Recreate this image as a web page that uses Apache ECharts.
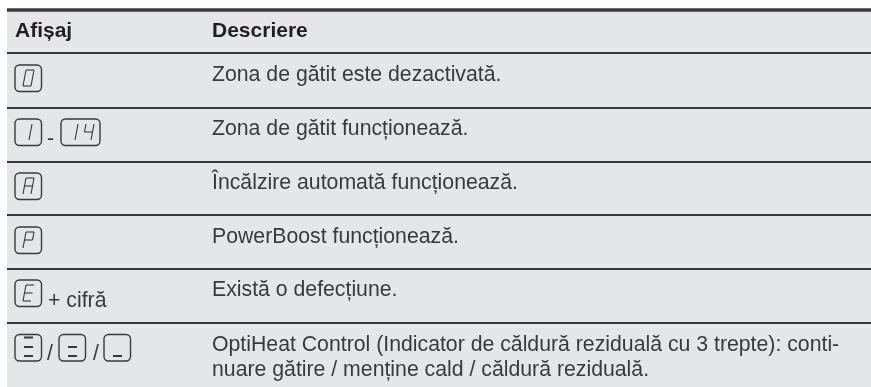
<!DOCTYPE html>
<html>
<head>
<meta charset="utf-8">
<style>
  html, body { margin: 0; padding: 0; background: #fff; }
  #main { width: 871px; height: 387px; }
</style>
<script src="https://cdn.jsdelivr.net/npm/echarts@6/dist/echarts.min.js"></script>
</head>
<body>
<div id="main"></div>
<script>
/* table content */
const headers = ['Afișaj', 'Descriere'];
const displayCodes = [['0'], ['1', '14'], ['A'], ['P'], ['E'], ['bars3', 'bars2', 'bars1']];
const displayNotes = ['', '-', '', '', '+ cifră', '/'];
const descriptions = [
  ['Zona de gătit este dezactivată.'],
  ['Zona de gătit funcționează.'],
  ['Încălzire automată funcționează.'],
  ['PowerBoost funcționează.'],
  ['Există o defecțiune.'],
  ['OptiHeat Control (Indicator de căldură reziduală cu 3 trepte): conti-',
   'nuare gătire / menține cald / căldură reziduală.']
];

/* layout, in pixels of the axes below */
const W = 871, H = 387;
const tableLeft = 7, descLeft = 212, codeLeft = 15;
const ruleY = [10, 53, 108, 162, 215, 269, 323];
const boxTop = [65, 119, 173, 227, 280, 334.5];
const boxH = 26.5, boxW = 26.5, wideBoxW = 39;
const boxX = [[15], [15, 61], [15], [15], [15], [15, 59, 104]];
const noteX = [[], [47], [], [], [48], [47, 93]];
const noteDy = [0, 20, 0, 0, 21, 19.5];
const ink = '#3a3a3c', band = '#e5e6e8', font = '"Liberation Sans", Arial, sans-serif';
const textSize = 21.25, headSize = 21;

const segments = {
  a: [[0, 0], [1, 0]], b: [[1, 0], [1, 0.5]], c: [[1, 0.5], [1, 1]],
  d: [[0, 1], [1, 1]], e: [[0, 0.5], [0, 1]], f: [[0, 0], [0, 0.5]], g: [[0, 0.5], [1, 0.5]]
};
const digitSegs = { '0': 'abcdef', '1': 'bc', '4': 'bcfg', 'A': 'abcefg', 'P': 'abefg', 'E': 'adefg' };
const barRows = { bars3: [3, 12.5, 21.5], bars2: [12.5, 21.5], bars1: [21.5] };

function glyph(api, ch, x, y) {
  let out = [];
  const gw = 8, gh = 16, skew = 3;
  digitSegs[ch].split('').forEach(function (s) {
    let p = segments[s].map(function (q) {
      return api.coord([x + q[0] * gw + (1 - q[1]) * skew, y + q[1] * gh]);
    });
    out.push({
      type: 'line',
      shape: { x1: p[0][0], y1: p[0][1], x2: p[1][0], y2: p[1][1] },
      style: { stroke: ink, lineWidth: 1.1 }
    });
  });
  return out;
}

function drawDisplay(params, api) {
  const row = params.dataIndex;
  let children = [];
  displayCodes[row].forEach(function (code, i) {
    const left = boxX[row][i], top = boxTop[row];
    const wide = code === '14';
    const a = api.coord([left, top]);
    children.push({
      type: 'rect',
      shape: { x: a[0], y: a[1], width: wide ? wideBoxW : boxW, height: boxH, r: 4.5 },
      style: { fill: 'none', stroke: ink, lineWidth: 1.4 }
    });
    if (barRows[code]) {
      barRows[code].forEach(function (dy) {
        const b1 = api.coord([left + 9, top + dy]), b2 = api.coord([left + 18, top + dy]);
        children.push({
          type: 'line',
          shape: { x1: b1[0], y1: b1[1], x2: b2[0], y2: b2[1] },
          style: { stroke: ink, lineWidth: 2 }
        });
      });
    } else if (wide) {
      children = children.concat(glyph(api, '1', left + 6, top + 5), glyph(api, '4', left + 22, top + 5));
    } else {
      children = children.concat(glyph(api, code, left + (code === '1' ? 6 : 8), top + 5));
    }
  });
  noteX[row].forEach(function (nx) {
    const p = api.coord([nx, boxTop[row] + noteDy[row]]);
    children.push({
      type: 'text',
      style: { x: p[0], y: p[1], text: displayNotes[row], fill: ink, font: textSize + 'px ' + font, textVerticalAlign: 'middle' }
    });
  });
  return { type: 'group', children: children };
}

function drawDescription(params, api) {
  const row = params.dataIndex;
  return {
    type: 'group',
    children: descriptions[row].map(function (line, i) {
      const p = api.coord([descLeft, Math.round(boxTop[row]) + 10 + i * 25]);
      return {
        type: 'text',
        style: { x: p[0], y: p[1], text: line, fill: ink, font: textSize + 'px ' + font, textVerticalAlign: 'middle' }
      };
    })
  };
}

let chart = echarts.init(document.getElementById('main'));
chart.setOption({
  animation: false,
  backgroundColor: '#ffffff',
  grid: { left: 0, right: 0, top: 0, bottom: 0 },
  xAxis: { type: 'value', min: 0, max: W, show: false },
  yAxis: { type: 'value', min: 0, max: H, inverse: true, show: false },
  series: [
    {
      /* grey band behind the whole table */
      type: 'custom', silent: true, data: [0],
      renderItem: function (params, api) {
        const a = api.coord([tableLeft, ruleY[0]]), b = api.coord([W, H]);
        return { type: 'rect', shape: { x: a[0], y: a[1], width: b[0] - a[0], height: b[1] - a[1] }, style: { fill: band } };
      }
    },
    {
      /* horizontal rules */
      type: 'custom', silent: true, data: ruleY.map(function (y, i) { return i; }),
      renderItem: function (params, api) {
        const i = params.dataIndex;
        const a = api.coord([tableLeft, ruleY[i]]), b = api.coord([W, ruleY[i]]);
        return {
          type: 'line',
          shape: { x1: a[0], y1: a[1], x2: b[0], y2: b[1] },
          style: { stroke: ink, lineWidth: i === 0 ? 3.5 : 2 }
        };
      }
    },
    {
      /* header */
      type: 'custom', silent: true, data: headers.map(function (h, i) { return i; }),
      renderItem: function (params, api) {
        const i = params.dataIndex;
        const p = api.coord([i === 0 ? codeLeft : descLeft, 31.5]);
        return {
          type: 'text',
          style: { x: p[0], y: p[1], text: headers[i], fill: '#231f20', font: 'bold ' + headSize + 'px ' + font, textVerticalAlign: 'middle' }
        };
      }
    },
    { type: 'custom', silent: true, data: displayCodes.map(function (d, i) { return i; }), renderItem: drawDisplay },
    { type: 'custom', silent: true, data: descriptions.map(function (d, i) { return i; }), renderItem: drawDescription }
  ]
});
</script>
</body>
</html>
